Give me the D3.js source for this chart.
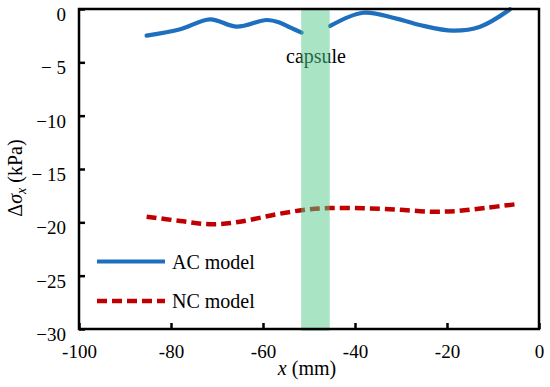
<!DOCTYPE html>
<html>
<head>
<meta charset="utf-8">
<script src="https://cdn.jsdelivr.net/npm/d3@7"></script>
<style>
  body { margin: 0; background: #fff; }
  svg text { font-family: "Liberation Serif", Tinos, "Noto Serif", "DejaVu Serif", Times, serif !important; }
</style>
</head>
<body>
<svg id="chart" width="550" height="387" font-family="Liberation Serif"></svg>
<script>
// values
const acX = [-85.3, -78, -71.5, -65.7, -59.2, -56.3, -54, -51.6, null, -45.4, -38.2, -31, -25.9, -18.7, -12.8, -6.3];
const acY = [-2.5, -1.9, -0.97, -1.66, -1.03, -1.28, -1.75, -2.22, null, -1.59, -0.35, -0.9, -1.5, -2.03, -1.66, -0.03];
const ncX = [-85.3, -78, -71.5, -65, -57.8, -51.2, -45.4, -38.2, -30.9, -23.7, -17.9, -11.4, -5.2];
const ncY = [-19.47, -19.87, -20.18, -19.94, -19.31, -18.84, -18.66, -18.68, -18.8, -19.0, -18.94, -18.63, -18.31];
const capsule = [-51.7, -45.5];
const xTicks = [-100, -80, -60, -40, -20, 0];
const xTickLabels = ["-100", "-80", "-60", "-40", "-20", "0"];
const yTicks = [0, -5, -10, -15, -20, -25, -30];
const yTickLabels = ["0", "\u2212 5", "\u221210", "\u2212 15", "\u221220", "\u221225", "\u221230"];
const seriesNames = ["AC model", "NC model"];

const svg = d3.select("#chart");
const margin = {left: 79, right: 11, top: 9, bottom: 58};
const W = +svg.attr("width"), H = +svg.attr("height");

const x = d3.scaleLinear().domain([-100, 0]).range([margin.left, W - margin.right]);
const y = d3.scaleLinear().domain([-30, 0]).range([H - margin.bottom, margin.top]);

const acData = acX.map((d, i) => d === null ? null : [d, acY[i]]);
const ncData = ncX.map((d, i) => [d, ncY[i]]);

const line = d3.line()
    .defined(d => d !== null)
    .x(d => x(d[0]))
    .y(d => y(d[1]))
    .curve(d3.curveCatmullRom.alpha(0.5));

const blue = "#1f6fbf", red = "#c00000";

svg.append("path")
    .datum(acData)
    .attr("d", line)
    .attr("fill", "none")
    .attr("stroke", blue)
    .attr("stroke-width", 4.2)
    .attr("stroke-linecap", "round");

svg.append("path")
    .datum(ncData)
    .attr("d", line)
    .attr("fill", "none")
    .attr("stroke", red)
    .attr("stroke-width", 4.5)
    .attr("stroke-dasharray", "10,5");

svg.append("text")
    .attr("x", 316)
    .attr("y", 63)
    .attr("text-anchor", "middle")
    .attr("font-size", 20)
    .text("capsule");

// capsule band, semi-transparent over the lines
svg.append("rect")
    .attr("x", x(capsule[0]))
    .attr("y", y(0))
    .attr("width", x(capsule[1]) - x(capsule[0]))
    .attr("height", y(-30) - y(0) + 2)
    .attr("fill", "#54c98a")
    .attr("opacity", 0.5);

// axes with inward ticks
const yAxis = svg.append("g")
    .attr("transform", `translate(${margin.left},0)`)
    .call(d3.axisLeft(y).tickValues(yTicks).tickSize(-6).tickPadding(13)
        .tickFormat((d, i) => yTickLabels[i]));
yAxis.attr("font-family", null).attr("font-size", 19);
yAxis.select(".domain").remove();
yAxis.selectAll(".tick line").attr("stroke", "#000").attr("stroke-width", 2.5);
yAxis.selectAll(".tick text").attr("dy", "11.5").attr("fill", "#000");

const xAxis = svg.append("g")
    .attr("transform", `translate(0,${H - margin.bottom})`)
    .call(d3.axisBottom(x).tickValues(xTicks).tickSize(-6).tickPadding(16)
        .tickFormat((d, i) => xTickLabels[i]));
xAxis.attr("font-family", null).attr("font-size", 19);
xAxis.select(".domain").remove();
xAxis.selectAll(".tick line").attr("stroke", "#000").attr("stroke-width", 2.5);
xAxis.selectAll(".tick text").attr("dy", "0.71em").attr("fill", "#000");

svg.append("rect")
    .attr("x", margin.left)
    .attr("y", margin.top)
    .attr("width", W - margin.left - margin.right)
    .attr("height", H - margin.top - margin.bottom)
    .attr("fill", "none")
    .attr("stroke", "#000")
    .attr("stroke-width", 2.5);

// axis titles
const xt = svg.append("text")
    .attr("x", 307)
    .attr("y", 375)
    .attr("text-anchor", "middle")
    .attr("font-size", 20);
xt.append("tspan").attr("font-style", "italic").text("x");
xt.append("tspan").text(" (mm)");

const yt = svg.append("text")
    .attr("transform", "translate(22,178) rotate(-90)")
    .attr("text-anchor", "middle")
    .attr("font-size", 20);
yt.append("tspan").text("\u0394");
yt.append("tspan").attr("font-style", "italic").text("\u03c3");
yt.append("tspan").attr("font-style", "italic").attr("font-size", 14).attr("dy", 4).text("x");
yt.append("tspan").attr("dy", -4).text(" (kPa)");

// legend
const legend = svg.append("g");
const legendY = [261.5, 301];
legend.selectAll("line")
    .data(seriesNames)
    .join("line")
    .attr("x1", 97)
    .attr("x2", 165)
    .attr("y1", (d, i) => legendY[i])
    .attr("y2", (d, i) => legendY[i])
    .attr("stroke", (d, i) => i === 0 ? blue : red)
    .attr("stroke-width", (d, i) => i === 0 ? 4.2 : 4.5)
    .attr("stroke-dasharray", (d, i) => i === 0 ? null : "10,5");
legend.selectAll("text")
    .data(seriesNames)
    .join("text")
    .attr("x", 172)
    .attr("y", (d, i) => legendY[i] + 7)
    .attr("font-size", 20)
    .text(d => d);
</script>
</body>
</html>
